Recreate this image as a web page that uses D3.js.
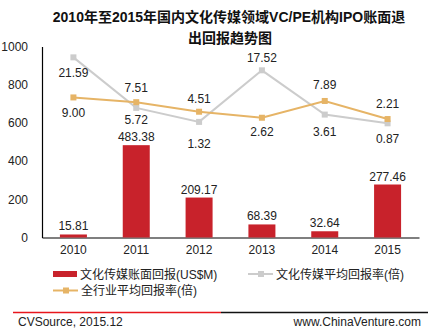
<!DOCTYPE html>
<html>
<head>
<meta charset="utf-8">
<script src="https://cdn.jsdelivr.net/npm/d3@7"></script>
<style>
  body { margin: 0; background: #fff; }
  svg text { font-family: "Liberation Sans", Arial, "Noto Sans CJK SC", sans-serif; }
</style>
</head>
<body>
<div id="chart"></div>
<script>
const years = ["2010", "2011", "2012", "2013", "2014", "2015"];
const bookReturn = [15.81, 483.38, 209.17, 68.39, 32.64, 277.46];      // US$M
const mediaMultiple = [21.59, 5.72, 1.32, 17.52, 3.61, 0.87];          // 倍
const allIndustryMultiple = [9.00, 7.51, 4.51, 2.62, 7.89, 2.21];      // 倍
const yTicks = [0, 200, 400, 600, 800, 1000];

const seriesNames = ["文化传媒账面回报(US$M)", "文化传媒平均回报率(倍)", "全行业平均回报率(倍)"];

const W = 432, H = 332;
const margin = { top: 46.5, right: 13, bottom: 94.5, left: 42 };
const width = W - margin.left - margin.right;
const height = H - margin.top - margin.bottom;

const barColor = "#C8222B";
const grayColor = "#CCCCCC";
const goldColor = "#E6B466";

const svg = d3.select("#chart").append("svg")
  .attr("width", W)
  .attr("height", H);

// title, two lines
const title = svg.append("text")
  .attr("text-anchor", "middle")
  .attr("font-size", 14)
  .attr("font-weight", "bold")
  .attr("fill", "#111");
title.append("tspan").attr("x", 229).attr("y", 22).text("2010年至2015年国内文化传媒领域VC/PE机构IPO账面退");
title.append("tspan").attr("x", 230).attr("y", 43).text("出回报趋势图");

const g = svg.append("g")
  .attr("transform", "translate(" + margin.left + "," + margin.top + ")");

const x = d3.scaleBand().domain(years).range([0, width]);
const y = d3.scaleLinear().domain([0, 1000]).range([height, 0]);
// hidden secondary axis for the multiples
const y2 = d3.scaleLinear().domain([-35, 25]).range([height, 0]);

// left axis, no tick marks
const yAxis = g.append("g")
  .call(d3.axisLeft(y).tickValues(yTicks).tickSize(0).tickPadding(14).tickFormat(d3.format("d")));
yAxis.select(".domain").attr("stroke", "#000").attr("stroke-width", 1.2);
yAxis.selectAll("text").attr("font-size", 12).attr("fill", "#222");

// bottom axis
const xAxis = g.append("g")
  .attr("transform", "translate(0," + height + ")")
  .call(d3.axisBottom(x).tickSize(0).tickPadding(8));
xAxis.select(".domain").attr("stroke", "#000").attr("stroke-width", 1.2);
xAxis.selectAll("text").attr("font-size", 12).attr("fill", "#222");

// bars
const barW = 27;
g.selectAll(".bar")
  .data(bookReturn)
  .enter().append("rect")
  .attr("class", "bar")
  .attr("x", (d, i) => x(years[i]) + x.bandwidth() / 2 - barW / 2)
  .attr("y", d => y(d))
  .attr("width", barW)
  .attr("height", d => height - y(d))
  .attr("fill", barColor);

g.selectAll(".bar-label")
  .data(bookReturn)
  .enter().append("text")
  .attr("class", "bar-label")
  .attr("x", (d, i) => x(years[i]) + x.bandwidth() / 2)
  .attr("y", d => y(d) - 4)
  .attr("text-anchor", "middle")
  .attr("font-size", 12)
  .attr("fill", "#222")
  .text(d => d.toFixed(2));

const cx = (d, i) => x(years[i]) + x.bandwidth() / 2;
const line = d3.line().x(cx).y(d => y2(d));

// label offsets (above / below the point) for each line
const mediaDy = [20, 16, 26, -8, 21, 20];
const allDy = [20, -10, -9, 18, -12, -11];

function drawLine(values, color, dys) {
  g.append("path")
    .datum(values)
    .attr("fill", "none")
    .attr("stroke", color)
    .attr("stroke-width", 2)
    .attr("d", line);
  g.selectAll(null)
    .data(values)
    .enter().append("rect")
    .attr("x", (d, i) => cx(d, i) - 3)
    .attr("y", d => y2(d) - 3)
    .attr("width", 6)
    .attr("height", 6)
    .attr("fill", color);
  g.selectAll(null)
    .data(values)
    .enter().append("text")
    .attr("x", cx)
    .attr("y", (d, i) => y2(d) + dys[i])
    .attr("text-anchor", "middle")
    .attr("font-size", 12)
    .attr("fill", "#222")
    .text(d => d.toFixed(2));
}

drawLine(mediaMultiple, grayColor, mediaDy);
drawLine(allIndustryMultiple, goldColor, allDy);

// legend
const legend = svg.append("g").attr("font-size", 12);
legend.append("rect")
  .attr("x", 53).attr("y", 271).attr("width", 24).attr("height", 6)
  .attr("fill", barColor);
legend.append("text").attr("x", 80).attr("y", 278.5).attr("fill", "#222").text(seriesNames[0]);

function legendLine(lx, ly, color, label) {
  legend.append("line")
    .attr("x1", lx).attr("x2", lx + 25).attr("y1", ly).attr("y2", ly)
    .attr("stroke", color).attr("stroke-width", 2);
  legend.append("rect")
    .attr("x", lx + 10).attr("y", ly - 3).attr("width", 6).attr("height", 6)
    .attr("fill", color);
  legend.append("text").attr("x", lx + 28).attr("y", ly + 4.5).attr("fill", "#222").text(label);
}
legendLine(248, 274, grayColor, seriesNames[1]);
legendLine(53, 290.5, goldColor, seriesNames[2]);

// footer
svg.append("line").attr("x1", 13).attr("x2", 221).attr("y1", 312.5).attr("y2", 312.5)
  .attr("stroke", "#E8161C").attr("stroke-width", 1.5);
svg.append("line").attr("x1", 221).attr("x2", 428).attr("y1", 312.5).attr("y2", 312.5)
  .attr("stroke", "#111").attr("stroke-width", 1.5);
svg.append("text").attr("x", 18).attr("y", 326).attr("font-size", 12).attr("fill", "#222")
  .text("CVSource, 2015.12");
svg.append("text").attr("x", 421).attr("y", 326).attr("font-size", 12).attr("fill", "#222")
  .attr("text-anchor", "end").text("www.ChinaVenture.com");
</script>
</body>
</html>
